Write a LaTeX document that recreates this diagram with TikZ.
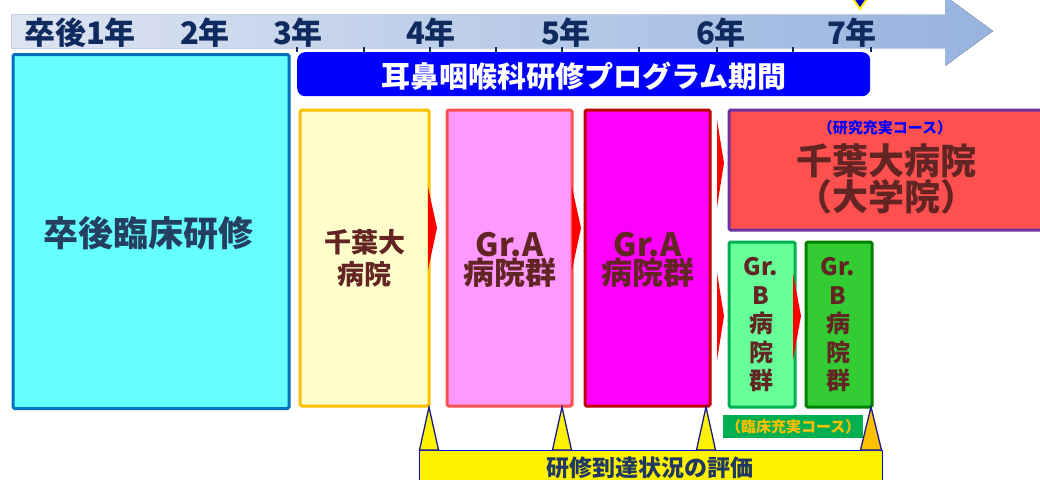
\documentclass[tikz,border=0pt]{standalone}
\usepackage{fontspec}
\usetikzlibrary{calc}
\newfontfamily\jp{Noto Sans CJK JP Black}
\definecolor{tlL}{HTML}{DDE4F1}
\definecolor{tlR}{HTML}{96B3DF}
\definecolor{tlB}{HTML}{C3CFE3}
\definecolor{navy}{HTML}{0E2A5E}
\definecolor{cyanF}{HTML}{66FFFF}
\definecolor{cyanD}{HTML}{0070C0}
\definecolor{txtL}{HTML}{243F60}
\definecolor{brown}{HTML}{632523}
\definecolor{creamF}{HTML}{FFFFCC}
\definecolor{gold}{HTML}{FFC000}
\definecolor{pinkF}{HTML}{FF99FF}
\definecolor{pinkD}{HTML}{FF5050}
\definecolor{magF}{HTML}{FF00FF}
\definecolor{darkred}{HTML}{C00000}
\definecolor{redF}{HTML}{FF5050}
\definecolor{purp}{HTML}{7030A0}
\definecolor{lgreenF}{HTML}{66FF99}
\definecolor{greenD}{HTML}{00B050}
\definecolor{greenF}{HTML}{33CC33}
\definecolor{dgreen}{HTML}{008000}
\definecolor{triD}{HTML}{1A1A8C}
\definecolor{botT}{HTML}{1F3864}
\begin{document}
\begin{tikzpicture}[x=1pt,y=-1pt,
  box/.style={draw, line width=3pt, rounded corners=1.5pt, anchor=north west, inner sep=0pt},
  yr/.style={font=\jp\fontsize{31}{33}\selectfont, text=navy, inner sep=0pt},
  lbl/.style={font=\jp, text=brown, align=center, inner sep=0pt},
  chev/.style={fill=red},
  tri/.style={draw=triD, line width=1.3pt, line join=miter, fill=yellow}]
\useasboundingbox (0,0) rectangle (1040,479);
\clip (0,0) rectangle (1040,479);
% timeline arrow
\fill[left color=tlL, right color=tlR] (11,14) -- (945,14) -- (945,-4) -- (993,31) -- (945,66) -- (945,48) -- (11,48) -- cycle;
\draw[tlB, line width=0.8pt] (945,14) -- (11,14) -- (11,48) -- (945,48);
\foreach \t in {297,364,430,496,562,639,717,793,871}
  \draw[navy, line width=2pt] (\t,47) -- (\t,52);
\node[yr] (y1) at (80,33) {卒後1年};
\node[yr] (y2) at (205,33) {2年};
\node[yr] (y3) at (298,33) {3年};
\node[yr] (y4) at (431,33) {4年};
\node[yr] (y5) at (566,33) {5年};
\node[yr] (y6) at (721,33) {6年};
\node[yr] (y7) at (852,33) {7年};
% marker top
\filldraw[fill=blue!80!black, draw=yellow, line width=2pt] (851,-4) -- (869,-4) -- (860,9) -- cycle;
% left box
\node[box, fill=cyanF, draw=cyanD, minimum width=276pt, minimum height=354pt] (pgy) at (11.5,53) {};
\node[font=\jp\fontsize{35}{38}\selectfont, text=txtL] (pgyT) at (148,233) {卒後臨床研修};
% banner
\node[fill=blue, rounded corners=8pt, anchor=north west, minimum width=573pt, minimum height=44pt, inner sep=0pt] (prog) at (297,52) {};
\node[font=\jp\fontsize{29}{31}\selectfont, text=white] (progT) at (584,76) {耳鼻咽喉科研修プログラム期間};
% hospital boxes
\node[box, fill=creamF, draw=gold, minimum width=129pt, minimum height=296pt] (chiba) at (298.5,108.5) {};
\node[lbl, font=\jp\fontsize{27}{32}\selectfont] (chibaT) at (chiba.center) {千葉大\\病院};
\node[box, fill=pinkF, draw=pinkD, minimum width=125pt, minimum height=296pt] (ga1) at (445.5,108.5) {};
\node[lbl] (ga1T) at ($(ga1.center)+(0,2)$) {\fontsize{32}{38}\selectfont Gr.A\\\fontsize{31}{38}\selectfont 病院群};
\node[box, fill=magF, draw=darkred, minimum width=125pt, minimum height=296pt] (ga2) at (583.5,108.5) {};
\node[lbl] (ga2T) at ($(ga2.center)+(0,2)$) {\fontsize{32}{38}\selectfont Gr.A\\\fontsize{31}{38}\selectfont 病院群};
\node[box, fill=redF, draw=purp, minimum width=330pt, minimum height=120pt] (univ) at (727.5,108.5) {};
\node[font=\jp\fontsize{15}{17}\selectfont, text=blue, inner sep=0pt] (univS) at (885,128) {（研究充実コース）};
\node[lbl, font=\jp\fontsize{36}{34}\selectfont] (univT) at (886,179) {千葉大病院\\（大学院）};
\node[box, fill=lgreenF, draw=greenD, minimum width=66pt, minimum height=165pt] (gb1) at (727.5,240.5) {};
\node[lbl, font=\jp\fontsize{24}{28.5}\selectfont] (gb1T) at (761,325) {Gr.\\B\\病\\院\\群};
\node[box, fill=greenF, draw=dgreen, minimum width=66pt, minimum height=165pt] (gb2) at (804.5,240.5) {};
\node[lbl, font=\jp\fontsize{24}{28.5}\selectfont] (gb2T) at (838,325) {Gr.\\B\\病\\院\\群};
% course label
\node[fill=greenD, anchor=north west, minimum width=140pt, minimum height=23pt, inner sep=0pt] (clin) at (723,415) {};
\node[font=\jp\fontsize{15}{17}\selectfont, text=gold, inner sep=0pt] (clinT) at (clin.center) {（臨床充実コース）};
% chevrons
\fill[chev] (428,187) -- (437,228) -- (428,270) -- cycle;
\fill[chev] (572,187) -- (581,228) -- (572,270) -- cycle;
\fill[chev] (717,120) -- (724,163) -- (717,207) -- cycle;
\fill[chev] (717,273) -- (724,316) -- (717,360) -- cycle;
\fill[chev] (793,273) -- (801,316) -- (793,360) -- cycle;
% evaluation bar
\node[draw=blue, line width=1.3pt, fill=yellow, anchor=north west, minimum width=463pt, minimum height=40pt, inner sep=0pt] (eval) at (419,450) {};
\node[font=\jp\fontsize{23}{25}\selectfont, text=botT, inner sep=0pt] (evalT) at (650,468) {研修到達状況の評価};
\draw[tri] (419.5,450) -- (429,407) -- (438.5,450) -- cycle;
\draw[tri] (552.5,450) -- (562,407) -- (571.5,450) -- cycle;
\draw[tri] (696.5,450) -- (706,407) -- (715.5,450) -- cycle;
\draw[tri, fill=gold] (860.5,450) -- (871,407) -- (881.5,450) -- cycle;
\end{tikzpicture}
\end{document}
